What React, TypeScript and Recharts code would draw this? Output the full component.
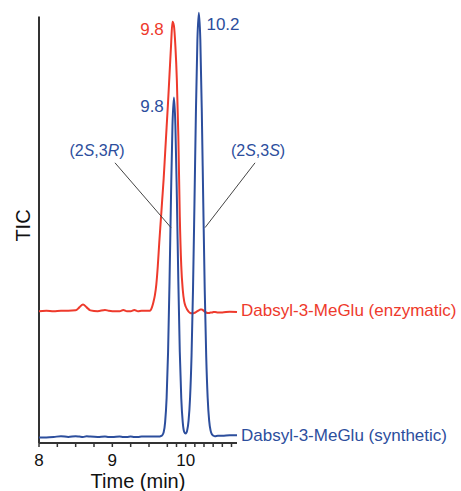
import React from 'react';
import { LineChart, Line, XAxis, YAxis, ReferenceLine, ReferenceDot } from 'recharts';

const FONT = '"Liberation Sans", Arial, Helvetica, sans-serif';
const RED = '#ee3a2c';
const BLUE = '#2c4e9d';
const AXIS = '#333333';

// Retention time (min)
const times = [
  8.0, 8.1, 8.2, 8.3, 8.4, 8.5, 8.55, 8.6, 8.65, 8.7, 8.8, 8.9, 8.95, 9.0, 9.1, 9.15, 9.2, 9.25, 9.3, 9.35, 9.4, 9.5,
  9.52, 9.54, 9.56, 9.58, 9.6, 9.62, 9.64, 9.66, 9.68, 9.7, 9.72, 9.74, 9.76, 9.78, 9.8, 9.82, 9.84, 9.86, 9.88, 9.9,
  9.92, 9.94, 9.96, 9.98, 10.0, 10.02, 10.04, 10.06, 10.08, 10.1, 10.12, 10.14, 10.16, 10.18, 10.2, 10.22, 10.24,
  10.26, 10.28, 10.3, 10.32, 10.34, 10.36, 10.38, 10.4, 10.44, 10.5, 10.6, 10.7,
];

// Dabsyl-3-MeGlu (synthetic) TIC trace
const syntheticTIC = [
  1.3, 1.3, 1.4, 1.6, 1.4, 1.6, 1.5, 1.4, 1.6, 1.5, 1.4, 1.5, 1.4, 1.4, 1.5, 1.4, 1.4, 1.5, 1.4, 1.4, 1.5, 1.5,
  1.5, 1.5, 1.5, 1.5, 1.5, 1.5, 1.5, 1.6, 1.8, 2.5, 4.9, 10.5, 21.3, 37.9, 57.7, 74.4, 81.0, 74.4, 57.7, 37.9,
  21.3, 10.5, 4.9, 2.6, 2.2, 2.9, 5.3, 10.6, 20.4, 35.9, 56.3, 77.8, 94.5, 100.9, 94.5, 77.8, 56.3,
  35.9, 20.4, 10.6, 5.3, 2.9, 2.0, 1.7, 1.6, 1.7, 1.7, 1.8, 1.8,
];

// Dabsyl-3-MeGlu (enzymatic) TIC trace (offset trace)
const enzymaticTIC = [
  30.9, 31.0, 30.9, 31.0, 31.0, 31.1, 31.8, 32.5, 31.8, 31.1, 30.9, 31.2, 31.0, 30.9, 30.9, 31.2, 30.9, 30.9, 31.2, 30.9, 31.0, 31.0,
  31.1, 31.8, 33.0, 34.6, 37.2, 41.5, 47.0, 52.0, 57.0, 62.0, 68.0, 74.0, 80.0, 86.5, 93.0, 98.8, 97.8, 93.0, 85.0, 72.0,
  53.0, 41.5, 36.0, 33.2, 32.0, 31.3, 30.8, 30.5, 30.4, 30.4, 30.5, 30.7, 30.9, 31.1, 31.3, 31.3, 31.1,
  30.8, 30.6, 30.5, 30.5, 30.6, 30.6, 30.7, 30.7, 30.6, 30.6, 30.8, 30.7,
];

const xTicks = [8, 8.25, 8.5, 8.75, 9, 9.25, 9.5, 9.75, 9.875, 10, 10.125, 10.25, 10.375, 10.5, 10.625];
const xTickLabels = ['8', '9', '10'];

const seriesNames = ['Dabsyl-3-MeGlu (enzymatic)', 'Dabsyl-3-MeGlu (synthetic)'];
const peakTexts = ['9.8', '9.8', '10.2'];

const data = times.map((t, i) => ({ t, syn: syntheticTIC[i], enz: enzymaticTIC[i] }));

const textShape = (content: React.ReactNode, color: string, size: number, anchor: string) => (props: any) => (
  <text x={props.cx} y={props.cy} textAnchor={anchor} fontSize={size} fill={color} fontFamily={FONT}>
    {content}
  </text>
);

const stereo = (a: string, b: string) => (
  <>
    (2<tspan fontStyle="italic">{a}</tspan>,3<tspan fontStyle="italic">{b}</tspan>)
  </>
);

export default function App() {
  return (
    <div style={{ position: 'absolute', left: 0, top: 0, background: '#fff' }}>
      <LineChart width={461} height={491} data={data} margin={{ top: 8, right: 224, bottom: 0, left: 0 }}>
        <XAxis
          dataKey="t"
          type="number"
          domain={[8, 10.7]}
          ticks={xTicks}
          interval={0}
          tickFormatter={(v: number) => (xTickLabels.includes(String(v)) ? String(v) : '')}
          tick={{ fontSize: 17, fill: '#111', fontFamily: FONT }}
          tickSize={4}
          tickMargin={7}
          tickLine={{ stroke: AXIS, strokeWidth: 1.5 }}
          axisLine={{ stroke: AXIS, strokeWidth: 2 }}
          height={48}
          label={{ value: 'Time (min)', position: 'insideBottom', offset: 3, fontSize: 20, fill: '#111', fontFamily: FONT }}
        />
        <YAxis
          type="number"
          domain={[0, 102]}
          width={39}
          tick={false}
          tickLine={false}
          axisLine={false}
          label={{ value: 'TIC', angle: -90, position: 'insideLeft', offset: 23, fontSize: 20, fill: '#111', fontFamily: FONT, style: { textAnchor: 'middle' } }}
        />
        <ReferenceLine segment={[{ x: 8, y: 0 }, { x: 8, y: 100 }]} stroke={AXIS} strokeWidth={2} ifOverflow="visible" />
        <Line dataKey="enz" type="monotone" stroke={RED} strokeWidth={2} dot={false} isAnimationActive={false} />
        <Line dataKey="syn" type="monotone" stroke={BLUE} strokeWidth={2} dot={false} isAnimationActive={false} />
        <ReferenceLine segment={[{ x: 9.036, y: 65.7 }, { x: 9.8, y: 50.5 }]} stroke="#444" strokeWidth={1} ifOverflow="visible" />
        <ReferenceLine segment={[{ x: 10.946, y: 65.7 }, { x: 10.264, y: 50.5 }]} stroke="#444" strokeWidth={1} ifOverflow="visible" />
        <ReferenceDot x={9.541} y={95.7} r={0} ifOverflow="visible" shape={textShape(peakTexts[0], RED, 17, 'middle')} />
        <ReferenceDot x={9.541} y={77.6} r={0} ifOverflow="visible" shape={textShape(peakTexts[1], BLUE, 17, 'middle')} />
        <ReferenceDot x={10.509} y={96.8} r={0} ifOverflow="visible" shape={textShape(peakTexts[2], BLUE, 17, 'middle')} />
        <ReferenceDot x={8.791} y={67.3} r={0} ifOverflow="visible" shape={textShape(stereo('S', 'R'), BLUE, 16, 'middle')} />
        <ReferenceDot x={10.987} y={67.3} r={0} ifOverflow="visible" shape={textShape(stereo('S', 'S'), BLUE, 16, 'middle')} />
        <ReferenceDot x={10.755} y={29.8} r={0} ifOverflow="visible" shape={textShape(seriesNames[0], RED, 17, 'start')} />
        <ReferenceDot x={10.755} y={0.5} r={0} ifOverflow="visible" shape={textShape(seriesNames[1], BLUE, 17, 'start')} />
      </LineChart>
    </div>
  );
}
